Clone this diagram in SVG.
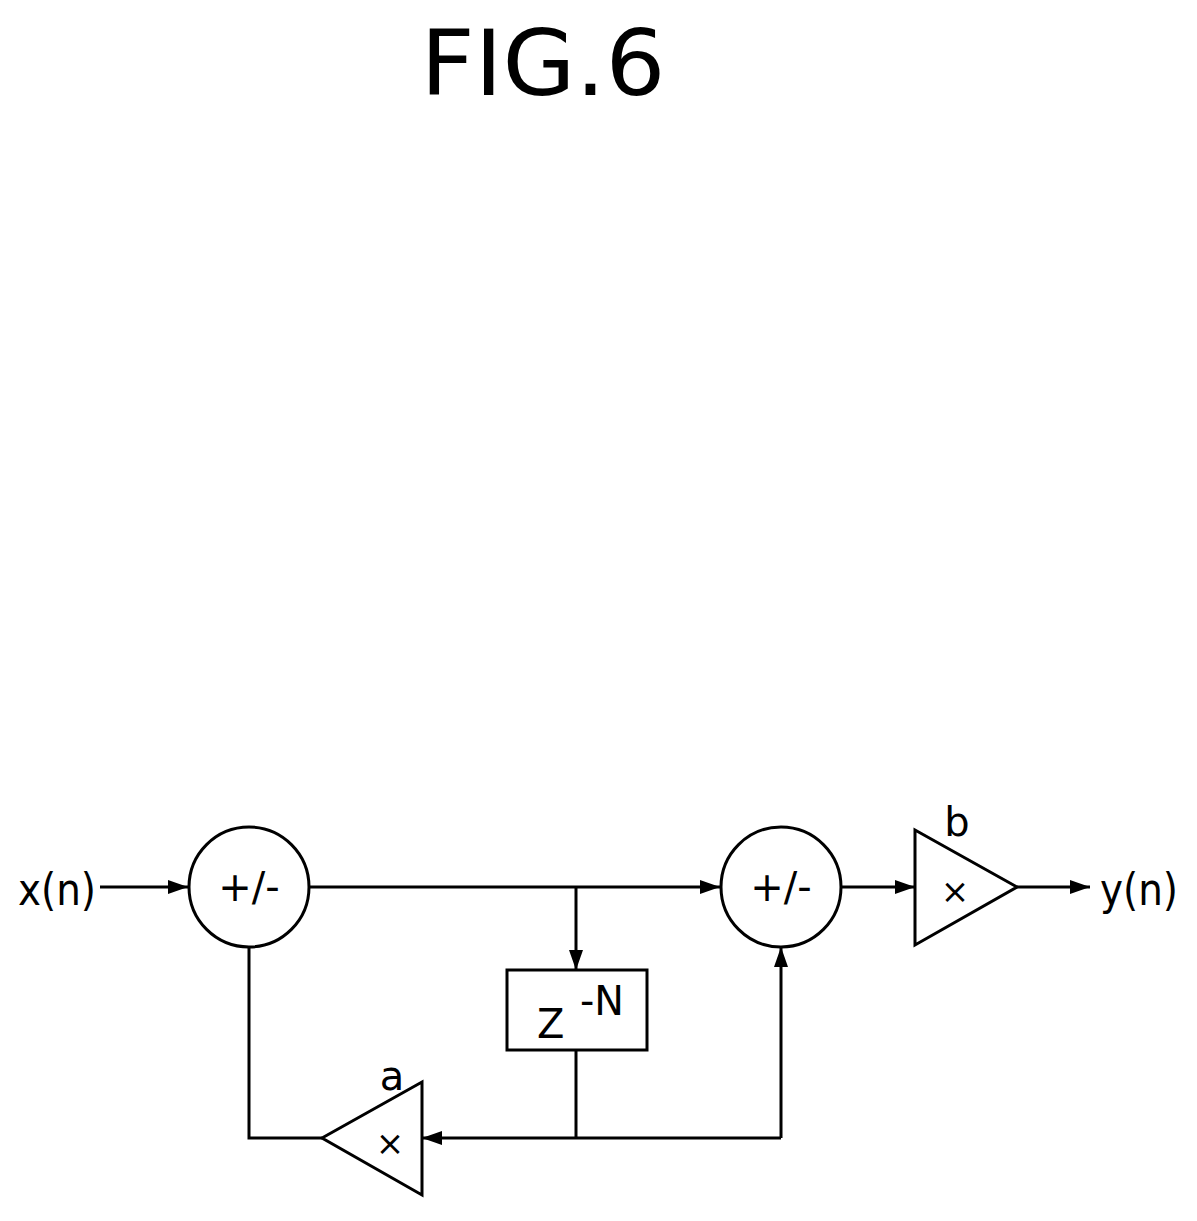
<svg xmlns="http://www.w3.org/2000/svg" width="1197" height="1221" viewBox="0 0 1197 1221">
<defs>
<style>
.s{fill:none;stroke:#000;stroke-width:3}
.n{fill:#fff;stroke:#000;stroke-width:3}
.t{font-family:"DejaVu Sans",sans-serif;fill:#000}
</style>
<marker id="a2" viewBox="0 0 20 14" refX="20" refY="7" markerWidth="20" markerHeight="14" orient="auto" markerUnits="userSpaceOnUse"><path d="M0,0 L20,7 L0,14 z" fill="#000"/></marker>
</defs>
<rect width="1197" height="1221" fill="#fff"/>
<text class="t" x="543" y="95" font-size="90" text-anchor="middle" textLength="245" lengthAdjust="spacingAndGlyphs">FIG.6</text>
<g id="connectors">
<line class="s" x1="100" y1="887" x2="188" y2="887" marker-end="url(#a2)"/>
<line class="s" x1="309" y1="887" x2="720" y2="887" marker-end="url(#a2)"/>
<line class="s" x1="576" y1="887" x2="576" y2="970" marker-end="url(#a2)"/>
<line class="s" x1="576" y1="1050" x2="576" y2="1138"/>
<line class="s" x1="781" y1="1138" x2="422" y2="1138" marker-end="url(#a2)"/>
<polyline class="s" points="322,1138 249,1138 249,947"/>
<polyline class="s" points="781,1138 781,947" marker-end="url(#a2)"/>
<line class="s" x1="841" y1="887" x2="915" y2="887" marker-end="url(#a2)"/>
<line class="s" x1="1017" y1="887" x2="1090" y2="887" marker-end="url(#a2)"/>
</g>
<g id="in"><text class="t" x="18" y="905" font-size="44" textLength="78" lengthAdjust="spacingAndGlyphs">x(n)</text></g>
<g id="sum1"><circle class="n" cx="249" cy="887" r="60"/><text class="t" x="249" y="901" font-size="40" text-anchor="middle">+/-</text></g>
<g id="sum2"><circle class="n" cx="781" cy="887" r="60"/><text class="t" x="781" y="901" font-size="40" text-anchor="middle">+/-</text></g>
<g id="delay"><rect class="n" x="507" y="970" width="140" height="80"/><text class="t" x="537" y="1038" font-size="40">Z</text><text class="t" x="580" y="1015" font-size="40" textLength="44" lengthAdjust="spacingAndGlyphs">-N</text></g>
<g id="gainA"><polygon class="n" points="322,1138 422,1082 422,1195"/><text class="t" x="390" y="1155" font-size="34" text-anchor="middle">×</text><text class="t" x="392" y="1090" font-size="40" text-anchor="middle">a</text></g>
<g id="gainB"><polygon class="n" points="1017,887 915,830 915,945"/><text class="t" x="955" y="903" font-size="34" text-anchor="middle">×</text><text class="t" x="957" y="836" font-size="40" text-anchor="middle">b</text></g>
<g id="out"><text class="t" x="1100" y="905" font-size="44" textLength="78" lengthAdjust="spacingAndGlyphs">y(n)</text></g>
</svg>
